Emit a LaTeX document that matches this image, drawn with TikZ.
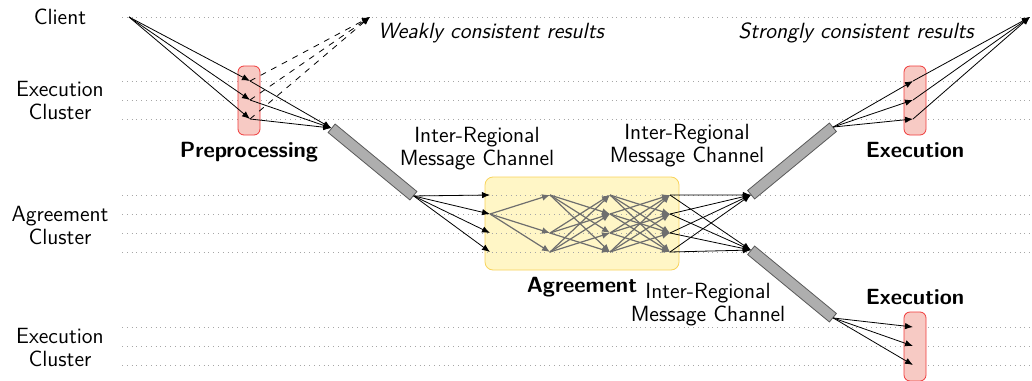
\documentclass[tikz,border=0pt]{standalone}
\usepackage{tikz}
\usetikzlibrary{arrows.meta}
\usetikzlibrary{calc}
\usetikzlibrary{positioning}
\definecolor{box-red}{HTML}{F03A3A}
\definecolor{box-pink}{HTML}{F7CAC4}
\definecolor{box-gold}{HTML}{F8D35A}
\definecolor{box-cream}{HTML}{FFF6C6}
\definecolor{chan-gray}{HTML}{AEAEAE}
\definecolor{msg-gray}{HTML}{6E6E6E}
\newcommand{\figfont}{\fontsize{11}{11.5}\selectfont\sffamily}

\tikzset{
    msg/.style={-{Latex[length=4pt, width=3.2pt]}, black},
    agreemsg/.style={-{Latex[length=4pt, width=3.4pt]}, color=msg-gray, semithick},
    rowline/.style={dotted, color=gray!70},
    execbox/.style={draw=box-red, fill=box-pink, rounded corners=3pt, minimum width=11pt, minimum height=34.5pt},
    channel/.style={draw=black!65, fill=chan-gray, minimum width=53pt, minimum height=5.5pt, inner sep=0pt},
    boldlbl/.style={font=\figfont\bfseries},
    chanlbl/.style={align=center}
}

\begin{document}
\begin{tikzpicture}[x=0.5pt, y=-0.5pt, font=\figfont]

    \useasboundingbox (0,0) rectangle (1032,380);

    % agreement region (below the row lines)
    \node[draw=box-gold, fill=box-cream, rounded corners=4pt, minimum width=97pt, minimum height=46.5pt] (agree) at (582,223.5) {};

    % row lines
    \foreach \y in {17,81,100,119,195,214,233,252,327,346,365}
        \draw[rowline] (122,\y) -- (1032,\y);

    % cluster labels
    \node (client-lbl) at (60,17) {Client};
    \node[chanlbl] (exec1-lbl) at (60,101) {Execution\\Cluster};
    \node[chanlbl] (agree-lbl) at (60,225) {Agreement\\Cluster};
    \node[chanlbl] (exec2-lbl) at (60,348) {Execution\\Cluster};

    % boxes
    \node[execbox] (prep) at (249,100.5) {};
    \node[execbox] (exec1) at (915,100.5) {};
    \node[execbox] (exec2) at (915,346.5) {};
    \node[boldlbl, below=0pt of prep] (prep-lbl) {Preprocessing};
    \node[boldlbl, below=0pt of exec1] (exec1-name) {Execution};
    \node[boldlbl, above=0pt of exec2] (exec2-name) {Execution};
    \node[boldlbl, below=0pt of agree] (agree-name) {Agreement};

    % channels
    \node[channel, rotate=-39.5] (ch1) at (372.5,162) {};
    \node[channel, rotate=39.5] (ch2) at (792,161) {};
    \node[channel, rotate=-39.5] (ch3) at (792,284) {};
    \node[chanlbl] (ch1-lbl) at (477,149) {Inter-Regional\\Message Channel};
    \node[chanlbl] (ch2-lbl) at (687,146) {Inter-Regional\\Message Channel};
    \node[chanlbl] (ch3-lbl) at (708,305) {Inter-Regional\\Message Channel};

    % end points
    \coordinate (client) at (129,17);
    \coordinate (weak) at (370,17);
    \coordinate (strong) at (1030,17);
    \node[font=\figfont\itshape] (weak-lbl) at (491,33) {Weakly consistent results};
    \node[font=\figfont\itshape] (strong-lbl) at (856,33) {Strongly consistent results};

    \foreach \i/\y in {1/81,2/100,3/119} {
        \coordinate (p\i) at (250,\y);
        \coordinate (q\i) at (913,\y);
    }
    \foreach \i/\y in {1/327,2/346,3/365}
        \coordinate (r\i) at (913,\y);
    \foreach \i/\y in {1/195,2/214,3/233,4/252} {
        \coordinate (a0-\i) at (490,\y);
        \coordinate (a1-\i) at (550,\y);
        \coordinate (a2-\i) at (610,\y);
        \coordinate (a3-\i) at (670,\y);
    }

    % preprocessing
    \foreach \i in {1,2,3} {
        \draw[msg] (client) -- (p\i);
        \draw[msg, dashed] (p\i) -- (weak);
        \draw[msg] (p\i) -- (ch1.west);
    }
    \foreach \i in {1,2,3,4}
        \draw[msg] (ch1.east) -- (a0-\i);

    % agreement
    \foreach \j in {1,3,4}
        \draw[agreemsg] (a0-2) -- (a1-\j);
    \foreach \i in {1,3,4} {
        \foreach \j in {1,2,3,4} {
            \ifnum\i=\j\else \draw[agreemsg] (a1-\i) -- (a2-\j); \fi
        }
    }
    \foreach \i in {1,2,3,4} {
        \foreach \j in {1,2,3,4} {
            \ifnum\i=\j\else \draw[agreemsg] (a2-\i) -- (a3-\j); \fi
        }
    }

    % execution
    \foreach \i in {1,2,3,4} {
        \draw[msg] (a3-\i) -- (ch2.west);
        \draw[msg] (a3-\i) -- (ch3.west);
    }
    \foreach \i in {1,2,3} {
        \draw[msg] (ch2.east) -- (q\i);
        \draw[msg] (q\i) -- (strong);
        \draw[msg] (ch3.east) -- (r\i);
    }

\end{tikzpicture}
\end{document}
